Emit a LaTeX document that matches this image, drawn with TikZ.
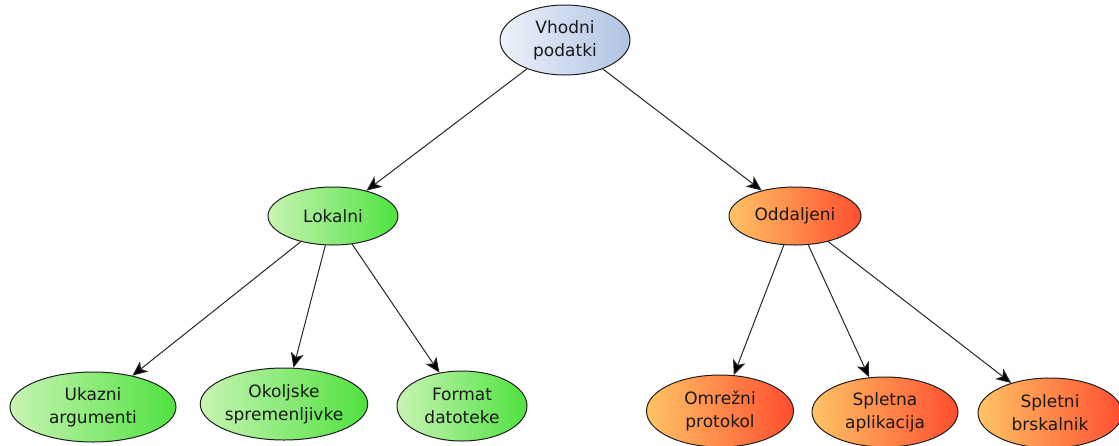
\documentclass[tikz,border=0pt]{standalone}
\usepackage{fontspec}
\setmainfont{DejaVu Sans}
\usetikzlibrary{shapes.geometric,arrows.meta}
\definecolor{edgegray}{HTML}{1E1E1E}
\definecolor{blueL}{HTML}{EEF2FA}
\definecolor{blueR}{HTML}{AFC3E2}
\definecolor{greenL}{HTML}{C8F4B4}
\definecolor{greenR}{HTML}{4FE23F}
\definecolor{orangeL}{HTML}{FFC364}
\definecolor{orangeR}{HTML}{FF4E30}
\tikzset{
  bubble/.style={ellipse, draw=edgegray, line width=1pt, inner sep=0pt,
    align=center, font=\fontsize{17}{23}\selectfont, text=black!90},
  rootnode/.style={bubble, left color=blueL, right color=blueR},
  localnode/.style={bubble, left color=greenL, right color=greenR},
  remotenode/.style={bubble, left color=orangeL, right color=orangeR},
  link/.style={draw=black!85, line width=1pt,
    -{Stealth[length=15pt,width=13pt,inset=4pt,fill=black]}}
}
\begin{document}
\begin{tikzpicture}[x=1pt,y=-1pt]
  \useasboundingbox (0,0) rectangle (1119,445);
  % root
  \node[rootnode, minimum width=130pt, minimum height=70pt] (root) at (565,40) {Vhodni\\podatki};
  % second level
  \node[localnode, minimum width=130pt, minimum height=58pt] (lok) at (333,216) {Lokalni};
  \node[remotenode, minimum width=132pt, minimum height=58pt] (odd) at (795,216) {Oddaljeni};
  % local sources
  \node[localnode, minimum width=166pt, minimum height=70pt] (uka) at (93,407) {Ukazni\\argumenti};
  \node[localnode, minimum width=152pt, minimum height=72pt] (oko) at (284,404) {Okoljske\\spremenljivke};
  \node[localnode, minimum width=130pt, minimum height=70pt] (for) at (462,406) {Format\\datoteke};
  % remote sources
  \node[remotenode, minimum width=147pt, minimum height=72pt] (omr) at (720,411) {Omrežni\\protokol};
  \node[remotenode, minimum width=146pt, minimum height=70pt] (spa) at (885,412) {Spletna\\aplikacija};
  \node[remotenode, minimum width=144pt, minimum height=70pt] (spb) at (1050,413) {Spletni\\brskalnik};
  % connectors
  \draw[link] (root) -- (lok);
  \draw[link] (root) -- (odd);
  \draw[link] (lok) -- (uka);
  \draw[link] (lok) -- (oko);
  \draw[link] (lok) -- (for);
  \draw[link] (odd) -- (omr);
  \draw[link] (odd) -- (spa);
  \draw[link] (odd) -- (spb);
\end{tikzpicture}
\end{document}
